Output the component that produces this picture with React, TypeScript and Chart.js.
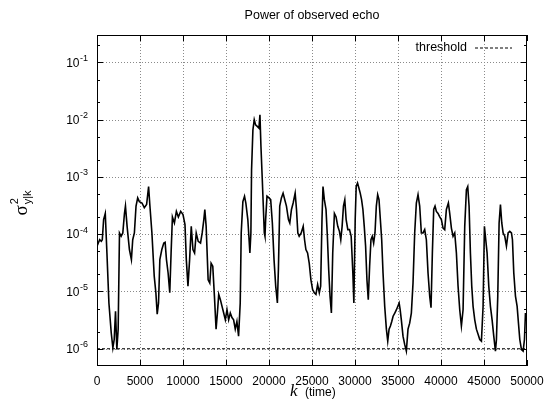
import React, { useEffect, useRef } from "react";
import { Chart, registerables } from "chart.js";

Chart.register(...registerables);

// ---- data ----
const kSamples = [
  0, 154, 308, 500, 615, 769, 962, 1154, 1385, 1654, 1846, 2000, 2154, 2308, 2461, 2615, 2808, 3000, 3192, 3308,
  3500, 3769, 4000, 4154, 4346, 4538, 4731, 4923, 5231, 5500, 5769, 6000, 6154, 6385, 6654, 6846, 7000, 7154, 7308, 7538,
  7769, 7923, 8077, 8269, 8461, 8615, 8769, 9000, 9231, 9461, 9731, 10000, 10231, 10385, 10577, 10769, 10961, 11154, 11346, 11538,
  11769, 12038, 12231, 12423, 12538, 12692, 12923, 13115, 13269, 13462, 13654, 13846, 14000, 14154, 14346, 14538, 14731, 14923, 15115, 15308,
  15500, 15692, 15885, 16077, 16269, 16462, 16654, 16769, 16962, 17154, 17308, 17538, 17660, 17777, 17894, 17972, 18128, 18284, 18440, 18635,
  18830, 18947, 19064, 19220, 19337, 19454, 19532, 19610, 19766, 20000, 20195, 20390, 20585, 20780, 20975, 21092, 21248, 21443, 21638, 21833,
  22028, 22262, 22418, 22613, 22808, 23042, 23198, 23354, 23510, 23744, 23978, 24134, 24290, 24485, 24680, 24875, 25070, 25265, 25460, 25655,
  25850, 26006, 26162, 26279, 26435, 26630, 26786, 26942, 27098, 27254, 27410, 27605, 27800, 27995, 28190, 28346, 28502, 28658, 28814, 28970,
  29165, 29360, 29555, 29750, 29867, 30023, 30140, 30296, 30452, 30608, 30764, 30920, 31076, 31232, 31388, 31544, 31700, 31856, 32012, 32168,
  32324, 32480, 32636, 32792, 32948, 33104, 33260, 33455, 33650, 33806, 33962, 34118, 34274, 34430, 34625, 34820, 35132, 35250, 35388, 35582,
  35776, 35970, 36164, 36358, 36552, 36746, 36940, 37134, 37328, 37522, 37716, 37910, 38104, 38298, 38492, 38686, 38841, 38996, 39152, 39307,
  39462, 39656, 39850, 40044, 40238, 40432, 40626, 40859, 41014, 41208, 41402, 41596, 41790, 41984, 42178, 42372, 42566, 42760, 42954, 43109,
  43264, 43420, 43575, 43730, 43924, 44118, 44312, 44506, 44700, 44894, 45049, 45204, 45360, 45554, 45748, 45942, 46136, 46330, 46446, 46601,
  46756, 46912, 47067, 47222, 47416, 47610, 47804, 47998, 48192, 48308, 48464, 48658, 48852, 49007, 49162, 49356, 49550, 49705, 49821, 49938,
];

const echoPower = [
  6.2e-5, 7.0e-5, 8.0e-5, 7.5e-5, 8.0e-5, 1.8e-4, 2.3e-4, 4.7e-5, 6.3e-6, 1.9e-6, 1.04e-6, 1.45e-6, 4.5e-6, 9.7e-7, 2.2e-6, 1.05e-4, 9.2e-5, 1.05e-4, 2.3e-4, 3.1e-4,
  1.37e-4, 5.4e-5, 3.6e-5, 8.0e-5, 1.05e-4, 3.1e-4, 4.3e-4, 3.7e-4, 3.5e-4, 2.9e-4, 3.3e-4, 6.8e-4, 3.1e-4, 1.05e-4, 1.85e-5, 9.5e-6, 4.0e-6, 6.3e-6, 3.6e-5, 5.4e-5,
  7.0e-5, 7.2e-5, 3.6e-5, 2.1e-5, 9.5e-6, 4.7e-5, 2.0e-4, 1.57e-4, 2.5e-4, 2.0e-4, 2.5e-4, 2.2e-4, 1.47e-4, 3.6e-5, 1.24e-5, 3.6e-5, 1.37e-4, 5.4e-5, 4.7e-5, 1.05e-4,
  7.5e-5, 7.0e-5, 1.05e-4, 1.8e-4, 2.7e-4, 1.37e-4, 1.6e-5, 1.4e-5, 3.1e-5, 2.75e-5, 8.3e-6, 2.2e-6, 4.2e-6, 8.9e-6, 7.2e-6, 5.5e-6, 4.2e-6, 3.2e-6, 4.8e-6, 3.2e-6,
  4.2e-6, 3.5e-6, 3.2e-6, 2.2e-6, 3.0e-6, 1.66e-6, 6.3e-6, 1.05e-4, 3.7e-4, 4.6e-4, 3.5e-4, 1.8e-4, 9.2e-5, 4.7e-5, 1.05e-4, 1.33e-3, 6.6e-3, 1.0e-2, 8.1e-3, 7.6e-3,
  7.1e-3, 1.21e-2, 3.4e-3, 8.9e-4, 3.1e-4, 1.05e-4, 9.2e-5, 1.8e-4, 4.6e-4, 4.3e-4, 4.0e-4, 1.57e-4, 3.6e-5, 1.24e-5, 6.3e-6, 2.4e-5, 3.1e-4, 4.3e-4, 5.2e-4, 4.0e-4,
  3.1e-4, 1.8e-4, 1.57e-4, 2.7e-4, 3.5e-4, 5.2e-4, 2.7e-4, 1.05e-4, 9.2e-5, 1.05e-4, 1.37e-4, 8.0e-5, 5.4e-5, 4.7e-5, 3.1e-5, 1.6e-5, 1.08e-5, 9.5e-6, 8.9e-6, 1.32e-5,
  9.5e-6, 1.24e-5, 1.8e-4, 6.8e-4, 4.0e-4, 2.7e-4, 9.2e-5, 2.4e-5, 8.3e-6, 4.2e-6, 4.7e-5, 2.3e-4, 2.0e-4, 1.37e-4, 1.12e-4, 8.0e-5, 1.37e-4, 3.1e-4, 4.0e-4, 1.8e-4,
  1.2e-4, 1.2e-4, 9.2e-5, 2.1e-5, 6.3e-6, 1.8e-4, 6.8e-4, 7.8e-4, 6.4e-4, 5.2e-4, 4.0e-4, 2.7e-4, 1.37e-4, 6.2e-5, 1.6e-5, 7.2e-6, 2.75e-5, 8.0e-5, 9.2e-5, 7.0e-5,
  1.05e-4, 3.1e-4, 4.9e-4, 4.0e-4, 1.8e-4, 8.0e-5, 2.1e-5, 5.5e-6, 2.2e-6, 1.36e-6, 2.2e-6, 2.5e-6, 3.0e-6, 3.7e-6, 4.2e-6, 4.8e-6, 6.3e-6, 4.8e-6, 3.2e-6, 1.66e-6,
  1.19e-6, 9.1e-7, 2.2e-6, 2.8e-6, 4.2e-6, 1.4e-5, 1.05e-4, 3.5e-4, 4.9e-4, 3.1e-4, 1.05e-4, 1.05e-4, 1.2e-4, 8.0e-5, 2.1e-5, 8.3e-6, 5.2e-6, 4.7e-5, 2.7e-4, 3.1e-4,
  2.5e-4, 2.3e-4, 2.0e-4, 1.8e-4, 1.28e-4, 1.2e-4, 2.7e-4, 3.5e-4, 2.3e-4, 1.28e-4, 9.2e-5, 1.05e-4, 4.7e-5, 1.24e-5, 4.8e-6, 2.5e-6, 4.8e-6, 1.37e-4, 6.0e-4, 6.8e-4,
  3.1e-4, 4.7e-5, 1.24e-5, 5.5e-6, 3.2e-6, 2.2e-6, 1.8e-6, 1.45e-6, 1.36e-6, 5.5e-6, 1.37e-4, 8.0e-5, 4.7e-5, 1.24e-5, 5.5e-6, 3.2e-6, 1.66e-6, 9.1e-7, 1.45e-6, 8.3e-6,
  1.57e-4, 3.3e-4, 1.57e-4, 1.05e-4, 9.2e-5, 6.2e-5, 1.05e-4, 1.12e-4, 1.05e-4, 8.0e-5, 2.1e-5, 8.3e-6, 5.5e-6, 2.8e-6, 1.45e-6, 9.7e-7, 9.1e-7, 1.45e-6, 4.2e-6, 3.2e-6,
];

const thresholdLevel = 1e-6;

const xTickValues = [0, 5000, 10000, 15000, 20000, 25000, 30000, 35000, 40000, 45000, 50000];
const yTickExponents = [-6, -5, -4, -3, -2, -1];
const yMinorMultipliers = [2, 5];

const chartTitle = "Power of observed echo";
const legendLabel = "threshold";
const xTitleVar = "k";
const xTitleUnit = "(time)";
const yTitleMain = "σ";
const yTitleSup = "2";
const yTitleSub = "y|k";

const X_MIN = 0;
const X_MAX = 50000;
const Y_MIN = 5e-7;
const Y_MAX = 0.3;

const SANS = '"Liberation Sans", Arial, Helvetica, sans-serif';
const SERIF = '"Liberation Serif", "Times New Roman", serif';

const decorPlugin = {
  id: "gnuplotDecor",
  beforeDatasetsDraw(chart: any) {
    const { ctx, chartArea: a, scales } = chart;
    const x = scales.x;
    const y = scales.y;
    ctx.save();
    ctx.strokeStyle = "#8a8a8a";
    ctx.lineWidth = 1;
    ctx.setLineDash([1, 2]);
    for (const v of xTickValues) {
      if (v === X_MIN || v === X_MAX) continue;
      const px = Math.round(x.getPixelForValue(v)) + 0.5;
      ctx.beginPath();
      ctx.moveTo(px, a.top);
      ctx.lineTo(px, a.bottom);
      ctx.stroke();
    }
    for (const e of yTickExponents) {
      const py = Math.round(y.getPixelForValue(Math.pow(10, e))) + 0.5;
      ctx.beginPath();
      ctx.moveTo(a.left, py);
      ctx.lineTo(a.right, py);
      ctx.stroke();
    }
    ctx.restore();
  },
  afterDatasetsDraw(chart: any) {
    const { ctx, chartArea: a, scales } = chart;
    const x = scales.x;
    const y = scales.y;
    ctx.save();
    ctx.setLineDash([]);
    ctx.strokeStyle = "#000";
    ctx.lineWidth = 1;

    // border
    ctx.strokeRect(a.left + 0.5, a.top + 0.5, a.right - a.left - 1, a.bottom - a.top - 1);

    // x ticks (bottom & top, inward)
    const major = 6;
    const minor = 3;
    ctx.beginPath();
    for (const v of xTickValues) {
      const px = Math.round(x.getPixelForValue(v)) + 0.5;
      ctx.moveTo(px, a.bottom);
      ctx.lineTo(px, a.bottom - major);
      ctx.moveTo(px, a.top);
      ctx.lineTo(px, a.top + major);
    }
    // y ticks (left & right, inward)
    for (const e of yTickExponents) {
      const py = Math.round(y.getPixelForValue(Math.pow(10, e))) + 0.5;
      ctx.moveTo(a.left, py);
      ctx.lineTo(a.left + major, py);
      ctx.moveTo(a.right, py);
      ctx.lineTo(a.right - major, py);
    }
    for (let e = -7; e <= 0; e++) {
      for (const m of yMinorMultipliers) {
        const val = m * Math.pow(10, e);
        if (val <= Y_MIN || val >= Y_MAX) continue;
        const py = Math.round(y.getPixelForValue(val)) + 0.5;
        ctx.moveTo(a.left, py);
        ctx.lineTo(a.left + minor, py);
        ctx.moveTo(a.right, py);
        ctx.lineTo(a.right - minor, py);
      }
    }
    ctx.stroke();

    ctx.fillStyle = "#000";
    // x tick labels
    ctx.font = `12px ${SANS}`;
    ctx.textAlign = "center";
    ctx.textBaseline = "alphabetic";
    for (const v of xTickValues) {
      const px = x.getPixelForValue(v);
      ctx.fillText(String(v), px, a.bottom + 18.5);
    }

    // y tick labels 10^e
    for (const e of yTickExponents) {
      const py = y.getPixelForValue(Math.pow(10, e));
      ctx.font = `12px ${SANS}`;
      ctx.textAlign = "right";
      ctx.textBaseline = "middle";
      ctx.fillText("10", a.left - 17.5, py + 1);
      ctx.font = `9px ${SANS}`;
      ctx.textAlign = "left";
      ctx.fillText(String(e), a.left - 17, py - 4);
    }

    const cx = (a.left + a.right) / 2;
    const cy = (a.top + a.bottom) / 2;

    // title
    ctx.font = `12.5px ${SANS}`;
    ctx.textAlign = "center";
    ctx.textBaseline = "middle";
    ctx.fillText(chartTitle, cx, 16);

    // legend
    const ly = a.top + 12.5;
    ctx.font = `12.5px ${SANS}`;
    ctx.textAlign = "right";
    ctx.textBaseline = "middle";
    ctx.fillText(legendLabel, a.right - 60, ly);
    ctx.beginPath();
    ctx.setLineDash([3, 2]);
    ctx.moveTo(a.right - 52, ly + 0.5);
    ctx.lineTo(a.right - 15, ly + 0.5);
    ctx.stroke();
    ctx.setLineDash([]);

    // x title
    ctx.textAlign = "left";
    ctx.textBaseline = "alphabetic";
    ctx.font = `italic 17px ${SERIF}`;
    ctx.fillText(xTitleVar, cx - 22, a.bottom + 30);
    ctx.font = `12px ${SANS}`;
    ctx.fillText(xTitleUnit, cx - 7, a.bottom + 30);

    // y title (rotated)
    ctx.save();
    ctx.translate(27, cy + 15);
    ctx.rotate(-Math.PI / 2);
    ctx.font = `19px ${SERIF}`;
    ctx.textAlign = "left";
    ctx.textBaseline = "alphabetic";
    ctx.fillText(yTitleMain, 0, 0);
    const w = ctx.measureText(yTitleMain).width;
    ctx.font = `11px ${SANS}`;
    ctx.fillText(yTitleSup, w + 1, -9);
    ctx.fillText(yTitleSub, w + 1, 4);
    ctx.restore();

    ctx.restore();
  },
};

export default function App() {
  const canvasRef = useRef<HTMLCanvasElement | null>(null);

  useEffect(() => {
    const canvas = canvasRef.current;
    if (!canvas) return;
    const chart = new Chart(canvas, {
      type: "line",
      data: {
        datasets: [
          {
            label: "echo",
            data: kSamples.map((k, i) => ({ x: k, y: echoPower[i] })),
            borderColor: "#000",
            borderWidth: 1.6,
            pointRadius: 0,
            tension: 0,
            fill: false,
          },
          {
            label: legendLabel,
            data: [
              { x: X_MIN, y: thresholdLevel },
              { x: X_MAX, y: thresholdLevel },
            ],
            borderColor: "#000",
            borderWidth: 1,
            borderDash: [3, 2],
            pointRadius: 0,
            fill: false,
          },
        ],
      },
      options: {
        animation: false,
        responsive: false,
        devicePixelRatio: 1,
        layout: { padding: { left: 97, right: 23, top: 35, bottom: 43 } },
        scales: {
          x: { type: "linear", min: X_MIN, max: X_MAX, display: false },
          y: { type: "logarithmic", min: Y_MIN, max: Y_MAX, display: false },
        },
        plugins: {
          legend: { display: false },
          tooltip: { enabled: false },
          title: { display: false },
        },
      },
      plugins: [decorPlugin],
    } as any);
    return () => chart.destroy();
  }, []);

  return (
    <div style={{ position: "absolute", left: 0, top: 0, width: 550, height: 409, background: "#fff" }}>
      <canvas ref={canvasRef} width={550} height={409} style={{ width: 550, height: 409, display: "block" }} />
    </div>
  );
}
